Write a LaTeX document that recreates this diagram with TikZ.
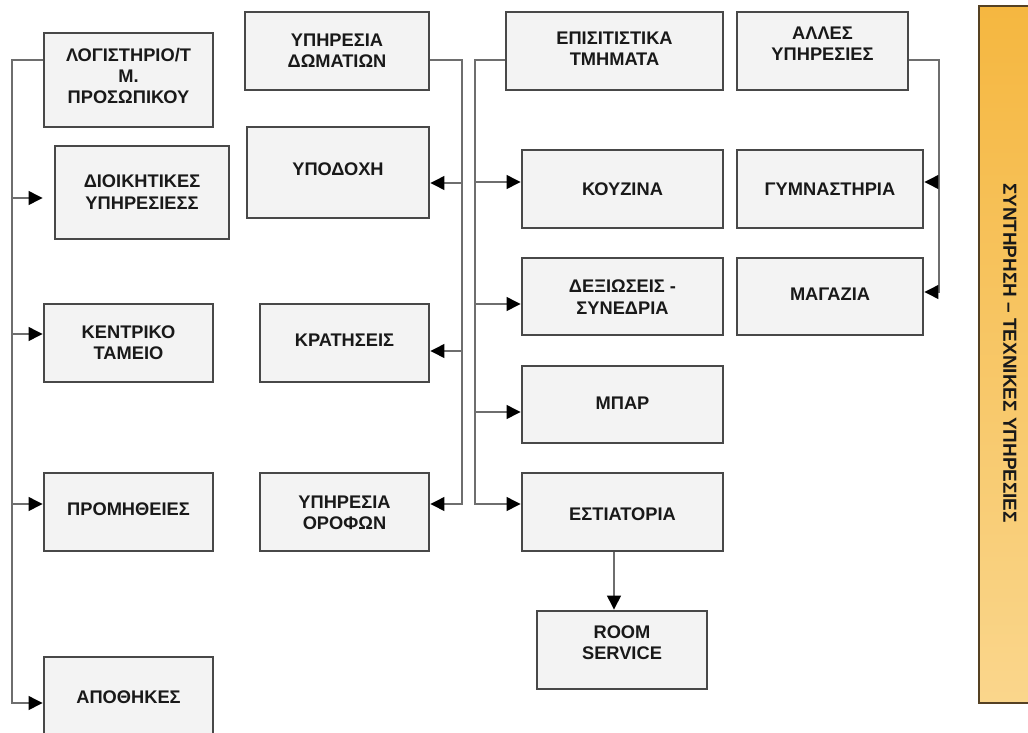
\documentclass[tikz,border=0pt]{standalone}
\usepackage{fontspec}
\setmainfont{Liberation Sans}
\usetikzlibrary{arrows.meta,fit,calc}
\definecolor{boxfill}{RGB}{243,243,243}
\definecolor{boxline}{RGB}{72,72,72}
\definecolor{conn}{RGB}{110,110,110}
\definecolor{txtc}{RGB}{25,25,25}
\definecolor{orTop}{RGB}{245,183,64}
\definecolor{orBot}{RGB}{250,214,140}
\definecolor{orLine}{RGB}{85,65,35}
\begin{document}
\begin{tikzpicture}[x=0.75pt,y=-0.75pt,
  box/.style={draw=boxline,line width=1.9pt,fill=boxfill,inner sep=0pt},
  txt/.style={font=\fontsize{13.7}{16}\selectfont\bfseries,text=txtc,align=center,inner sep=0pt},
  line/.style={draw=conn,line width=2pt},
  arr/.style={line,-{Triangle[length=10.5pt,width=10pt,color=black]}}]
\useasboundingbox (0,0) rectangle (1028,732);
\clip (0,0) rectangle (1028,732);
% orange side panel
\node[fit={(979,6) (1040,703)},inner sep=0pt,draw=orLine,line width=1.4pt,top color=orTop,bottom color=orBot] (side) {};
\node[txt,rotate=-90,font=\fontsize{14.2}{16}\selectfont\bfseries] (sidet) at (1010,353) {ΣΥΝΤΗΡΗΣΗ – ΤΕΧΝΙΚΕΣ ΥΠΗΡΕΣΙΕΣ};
% boxes
\node[box,fit={(44,33) (213,127)}] (log) {};
\node[box,fit={(55,146) (229,239)}] (dio) {};
\node[box,fit={(44,304) (213,382)}] (ken) {};
\node[box,fit={(44,473) (213,551)}] (pro) {};
\node[box,fit={(44,657) (213,735)}] (apo) {};
\node[box,fit={(245,12) (429,90)}] (dom) {};
\node[box,fit={(247,127) (429,218)}] (ypo) {};
\node[box,fit={(260,304) (429,382)}] (kra) {};
\node[box,fit={(260,473) (429,551)}] (oro) {};
\node[box,fit={(506,12) (723,90)}] (epi) {};
\node[box,fit={(522,150) (723,228)}] (kou) {};
\node[box,fit={(522,258) (723,335)}] (dex) {};
\node[box,fit={(522,366) (723,443)}] (mpa) {};
\node[box,fit={(522,473) (723,551)}] (est) {};
\node[box,fit={(537,611) (707,689)}] (room) {};
\node[box,fit={(737,12) (908,90)}] (all) {};
\node[box,fit={(737,150) (923,228)}] (gym) {};
\node[box,fit={(737,258) (923,335)}] (mag) {};
% texts
\node[txt] (logt) at (128.5,76) {ΛΟΓΙΣΤΗΡΙΟ/Τ\\Μ.\\ΠΡΟΣΩΠΙΚΟΥ};
\node[txt] (diot) at (142,192) {ΔΙΟΙΚΗΤΙΚΕΣ\\ΥΠΗΡΕΣΙΕΣΣ};
\node[txt] (kent) at (128.5,343) {ΚΕΝΤΡΙΚΟ\\ΤΑΜΕΙΟ};
\node[txt] (prot) at (128.5,509) {ΠΡΟΜΗΘΕΙΕΣ};
\node[txt] (apot) at (128.5,697) {ΑΠΟΘΗΚΕΣ};
\node[txt] (domt) at (337,51) {ΥΠΗΡΕΣΙΑ\\ΔΩΜΑΤΙΩΝ};
\node[txt] (ypot) at (338,169) {ΥΠΟΔΟΧΗ};
\node[txt] (krat) at (344.5,340) {ΚΡΑΤΗΣΕΙΣ};
\node[txt] (orot) at (344.5,513) {ΥΠΗΡΕΣΙΑ\\ΟΡΟΦΩΝ};
\node[txt] (epit) at (614.5,49) {ΕΠΙΣΙΤΙΣΤΙΚΑ\\ΤΜΗΜΑΤΑ};
\node[txt] (kout) at (622.5,189) {ΚΟΥΖΙΝΑ};
\node[txt] (dext) at (622.5,297) {ΔΕΞΙΩΣΕΙΣ -\\ΣΥΝΕΔΡΙΑ};
\node[txt] (mpat) at (622.5,403) {ΜΠΑΡ};
\node[txt] (estt) at (622.5,514) {ΕΣΤΙΑΤΟΡΙΑ};
\node[txt] (roomt) at (622,643) {ROOM\\SERVICE};
\node[txt] (allt) at (822.5,44) {ΑΛΛΕΣ\\ΥΠΗΡΕΣΙΕΣ};
\node[txt] (gymt) at (830,189) {ΓΥΜΝΑΣΤΗΡΙΑ};
\node[txt] (magt) at (830,294) {ΜΑΓΑΖΙΑ};
% trunk coordinates
\coordinate (t1) at (12,60);
\coordinate (t2) at (462,60);
\coordinate (t3) at (475,60);
\coordinate (t4) at (939,60);
% group 1
\draw[arr] (log.west |- t1) -- (t1) |- (apo.west |- 0,703);
\draw[arr] (t1 |- 0,198) -- (log.west |- 0,198);
\draw[arr] (t1 |- 0,334) -- (ken.west |- 0,334);
\draw[arr] (t1 |- 0,504) -- (pro.west |- 0,504);
% group 2
\draw[arr] (dom.east |- t2) -- (t2) |- (oro.east |- 0,504);
\draw[arr] (t2 |- 0,183) -- (ypo.east |- 0,183);
\draw[arr] (t2 |- 0,351) -- (kra.east |- 0,351);
% group 3
\draw[arr] (epi.west |- t3) -- (t3) |- (est.west |- 0,504);
\draw[arr] (t3 |- 0,182) -- (kou.west |- 0,182);
\draw[arr] (t3 |- 0,304) -- (dex.west |- 0,304);
\draw[arr] (t3 |- 0,412) -- (mpa.west |- 0,412);
% group 4
\draw[arr] (all.east |- t4) -- (t4) |- (mag.east |- 0,292);
\draw[arr] (t4 |- 0,182) -- (gym.east |- 0,182);
% restaurant to room service
\draw[arr] (est.south -| 614,0) -- (room.north -| 614,0);
\end{tikzpicture}
\end{document}
